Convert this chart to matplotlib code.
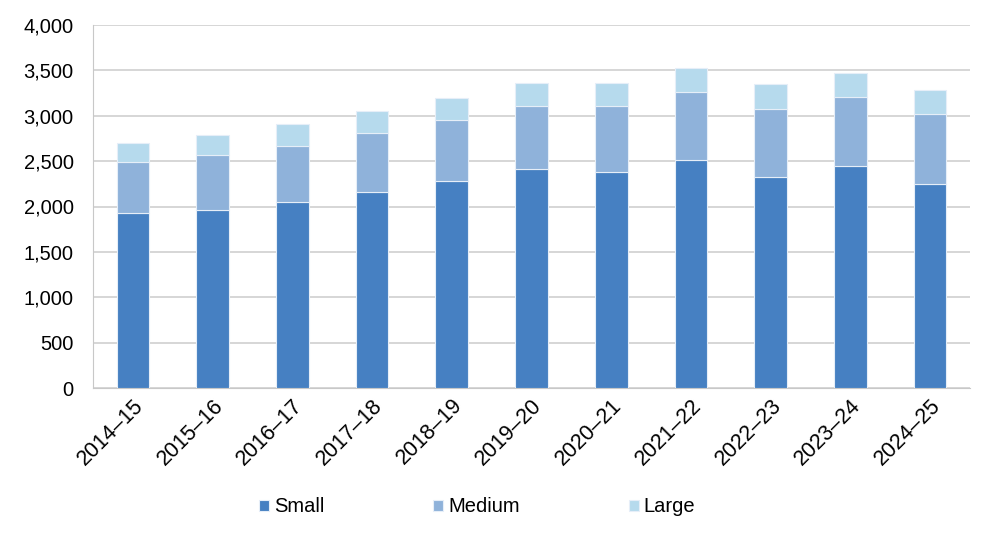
import matplotlib
matplotlib.use("Agg")
import matplotlib.pyplot as plt
from matplotlib.ticker import FuncFormatter

categories = ["2014–15", "2015–16", "2016–17", "2017–18", "2018–19", "2019–20",
              "2020–21", "2021–22", "2022–23", "2023–24", "2024–25"]
small = [1925, 1966, 2055, 2165, 2283, 2411, 2378, 2514, 2323, 2441, 2246]
medium = [568, 596, 617, 640, 665, 691, 724, 746, 750, 764, 772]
large = [209, 228, 235, 242, 250, 258, 262, 265, 272, 265, 264]

colors = ["#4680C2", "#8FB2DA", "#B6DAED"]
labels = ["Small", "Medium", "Large"]

plt.rcParams['font.family'] = ['Liberation Sans', 'DejaVu Sans']
FS = 14.5
fig = plt.figure(figsize=(9.94, 5.35), dpi=100)
ax = fig.add_axes([93/994, 1 - 388/535, 877/994, 363/535])

x = list(range(len(categories)))
w = 0.41
bottom2 = small
bottom3 = [a + b for a, b in zip(small, medium)]
ax.bar(x, small, w, color=colors[0], edgecolor="#E6EEF8", linewidth=0.8, label=labels[0], zorder=3)
ax.bar(x, medium, w, bottom=bottom2, color=colors[1], edgecolor="#E6EEF8", linewidth=0.8, label=labels[1], zorder=3)
ax.bar(x, large, w, bottom=bottom3, color=colors[2], edgecolor="#E6EEF8", linewidth=0.8, label=labels[2], zorder=3)

ax.set_xlim(-0.5, len(categories) - 0.5)
ax.set_ylim(0, 4000)
ax.set_yticks(range(0, 4001, 500))
ax.yaxis.set_major_formatter(FuncFormatter(lambda v, p: f"{int(v):,}"))
ax.grid(axis="y", color="#D0D0D0", linewidth=1.2, zorder=0)
ax.set_axisbelow(True)

for s in ["top", "right"]:
    ax.spines[s].set_visible(False)
ax.spines["left"].set_color("#C8C8C8")
ax.spines["bottom"].set_color("#C8C8C8")
ax.tick_params(axis="both", length=0, colors="black")
ax.tick_params(axis="y", pad=14, labelsize=FS)
ax.tick_params(axis="x", pad=5, labelsize=15.5)
ax.set_xticks(x)
ax.set_xticklabels(categories, rotation=45, ha="right", rotation_mode="anchor")

leg = fig.legend(loc="center", bbox_to_anchor=(0.48, 1 - 507/535), ncol=3, frameon=False,
                 fontsize=FS, handlelength=0.5, handleheight=0.5, handletextpad=0.25,
                 columnspacing=5.4)

fig.savefig("out.png", dpi=100)
